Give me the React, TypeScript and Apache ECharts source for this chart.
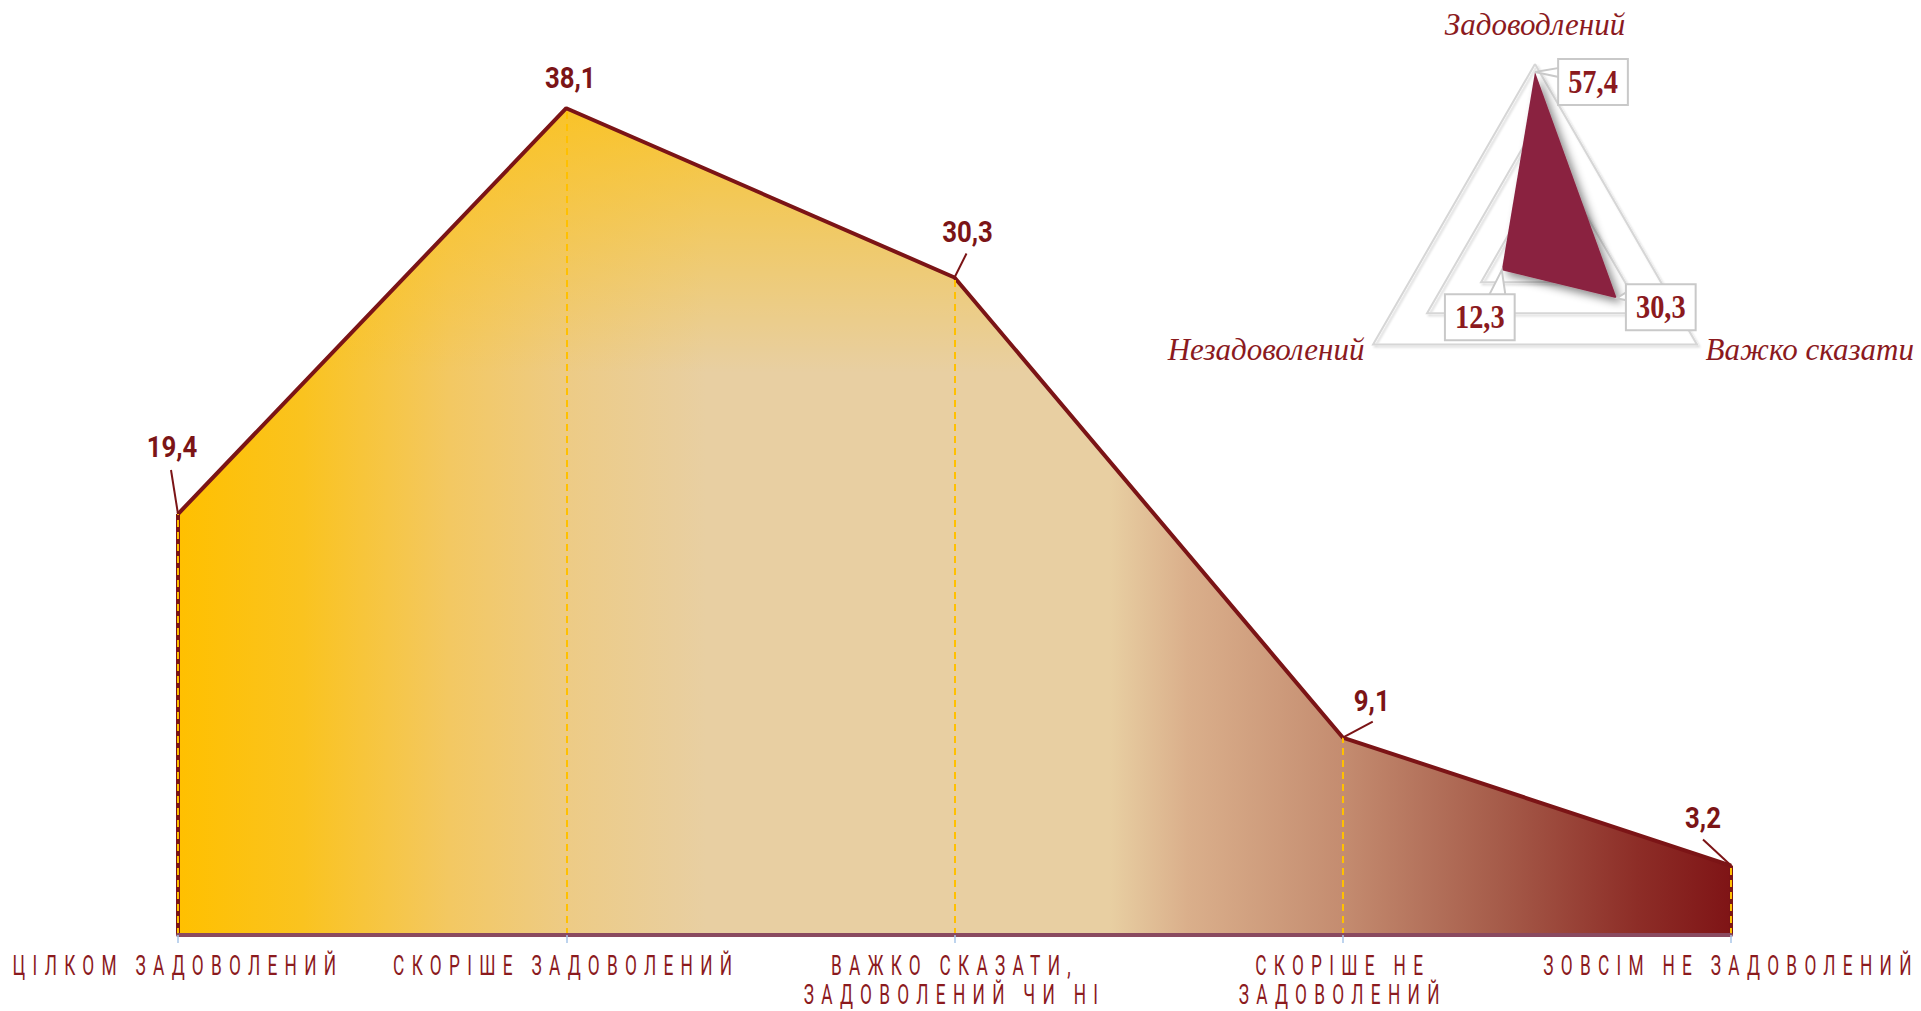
import React, { useEffect, useRef } from 'react';
import * as echarts from 'echarts';

// ---- data ----
const categories = [
  'ЦІЛКОМ ЗАДОВОЛЕНИЙ',
  'СКОРІШЕ ЗАДОВОЛЕНИЙ',
  'ВАЖКО СКАЗАТИ,\nЗАДОВОЛЕНИЙ ЧИ НІ',
  'СКОРІШЕ НЕ\nЗАДОВОЛЕНИЙ',
  'ЗОВСІМ НЕ ЗАДОВОЛЕНИЙ',
];
const values = [19.4, 38.1, 30.3, 9.1, 3.2];
const yMin = 0;
const yMax = 40;

const radarNames = ['Задоводлений', 'Незадоволений', 'Важко сказати'];
const radarValues = [57.4, 12.3, 30.3];
const radarMax = 60;

// ---- layout / style (kept separate from data) ----
const labelOffsets: [number, number][] = [[-6, -51], [4, -14], [13, -30], [29, -21], [-28, -32]];
const leaderVectors: ([number, number] | null)[] = [[-7, -44], null, [12, -24], [30, -16], [-28, -26]];
const radarCenter: [number, number] = [1535, 251];
const radarRadius = 187;
const radarAngles = [90, 210, 330];
const radarBoxOffsets: [number, number][] = [[58, 10], [-22, 47], [44, 9]];

const MAROON = '#7B1416';
const SANS = 'Roboto, sans-serif';
const SERIF = "'Liberation Serif', 'DejaVu Serif', serif";
const fmt = (v: number) => v.toFixed(1).replace('.', ',');

function radarVertex(i: number): [number, number] {
  const r = (radarValues[i] / radarMax) * radarRadius;
  const a = (radarAngles[i] * Math.PI) / 180;
  return [radarCenter[0] + r * Math.cos(a), radarCenter[1] - r * Math.sin(a)];
}

function buildRadarCallouts() {
  const els: any[] = [];
  const boxW = 70;
  const boxH = 45;
  radarValues.forEach((v, i) => {
    const [vx, vy] = radarVertex(i);
    const cx = vx + radarBoxOffsets[i][0];
    const cy = vy + radarBoxOffsets[i][1];
    const left = cx - boxW / 2;
    const top = cy - boxH / 2;
    let pts: number[][];
    if (i === 0) pts = [[vx, vy], [left + 3, top + 8], [left + 3, top + 18]];
    else if (i === 1) pts = [[vx, vy], [left + 43, top + 3], [left + 61, top + 3]];
    else pts = [[vx, vy], [left + 3, top + 6], [left + 3, top + 16]];
    els.push({
      type: 'polygon',
      z: 100,
      shape: { points: pts },
      style: { fill: '#ffffff', stroke: '#C9C9C9', lineWidth: 2 },
    });
    els.push({
      type: 'text',
      z: 101,
      x: cx,
      y: cy,
      style: {
        text: fmt(v),
        align: 'center',
        verticalAlign: 'middle',
        fill: '#8B1A1E',
        fontFamily: SERIF,
        fontWeight: 'bold',
        fontSize: 33,
        lineHeight: 33,
        backgroundColor: '#ffffff',
        borderColor: '#C9C9C9',
        borderWidth: 2,
        padding: [6, 5, 5, 5],
      },
    });
  });
  return els;
}

export default function App() {
  const ref = useRef<HTMLDivElement>(null);

  useEffect(() => {
    if (!ref.current) return;
    const chart = echarts.init(ref.current, null, { renderer: 'svg' });

    const endIdx = [0, values.length - 1];
    const edgeLines = endIdx.map((i) => [
      { coord: [categories[i], 0], lineStyle: { color: MAROON, width: 4, type: 'solid' } },
      { coord: [categories[i], values[i]] },
    ]);
    const dashLines = values.map((v, i) => [
      { coord: [categories[i], 0] },
      { coord: [categories[i], v] },
    ]);

    const option: any = {
      animation: false,
      backgroundColor: '#ffffff',
      grid: { left: 178, right: 190, top: 67, bottom: 76, containLabel: false },
      xAxis: {
        type: 'category',
        data: categories,
        boundaryGap: false,
        z: 5,
        axisLine: { show: true, lineStyle: { color: '#8A4A60', width: 4 } },
        axisTick: { show: true, interval: 0, length: 8, lineStyle: { color: '#A9C6E8', width: 1.5 } },
        axisLabel: {
          interval: 0,
          margin: 17,
          color: '#8B1A1E',
          fontFamily: SANS,
          fontSize: 27,
          lineHeight: 29,
          align: 'center',
        },
        splitLine: { show: false },
      },
      yAxis: { type: 'value', min: yMin, max: yMax, show: false, splitLine: { show: false } },
      radar: {
        center: radarCenter,
        radius: radarRadius,
        startAngle: 90,
        shape: 'polygon',
        splitNumber: 3,
        nameGap: 10,
        indicator: radarNames.map((n) => ({ name: n, max: radarMax })),
        axisName: {
          color: '#8B1A1E',
          fontFamily: SERIF,
          fontStyle: 'italic',
          fontSize: 31,
          formatter: (name: string) => (name === radarNames[0] ? `{top|${name}}` : name),
          rich: {
            top: {
              color: '#8B1A1E',
              fontFamily: SERIF,
              fontStyle: 'italic',
              fontSize: 31,
              padding: [0, 0, 14, 0],
            },
          },
        },
        splitLine: {
          lineStyle: {
            color: '#D6D6D6',
            width: 2,
            shadowColor: 'rgba(0,0,0,0.15)',
            shadowBlur: 2,
            shadowOffsetX: 2,
            shadowOffsetY: 2,
          },
        },
        splitArea: { show: false },
        axisLine: { show: false },
        axisTick: { show: false },
        axisLabel: { show: false },
      },
      series: [
        {
          type: 'line',
          data: values,
          silent: true,
          symbol: 'none',
          clip: false,
          z: 1,
          lineStyle: { width: 0 },
          areaStyle: {
            opacity: 1,
            color: new echarts.graphic.LinearGradient(0, 0, 1, 0, [
              { offset: 0, color: '#FFC000' },
              { offset: 0.08, color: '#FAC31F' },
              { offset: 0.175, color: '#F3C862' },
              { offset: 0.25, color: '#EDCB85' },
              { offset: 0.34, color: '#E8CFA2' },
              { offset: 0.6, color: '#E8CFA2' },
              { offset: 0.65, color: '#DAAF8B' },
              { offset: 0.75, color: '#C48C70' },
              { offset: 0.85, color: '#A65C4A' },
              { offset: 0.94, color: '#8D2D27' },
              { offset: 1, color: '#7F1416' },
            ]),
          },
        },
        {
          type: 'line',
          data: values,
          silent: true,
          symbol: 'none',
          clip: false,
          z: 2,
          lineStyle: { width: 0 },
          areaStyle: {
            opacity: 1,
            color: new echarts.graphic.LinearGradient(0, 0, 0, 1, [
              { offset: 0, color: 'rgba(255,192,0,0.7)' },
              { offset: 0.32, color: 'rgba(255,192,0,0)' },
              { offset: 1, color: 'rgba(255,192,0,0)' },
            ]),
          },
        },
        {
          type: 'line',
          z: 3,
          clip: false,
          silent: true,
          data: values.map((v, i) => ({ value: v, label: { offset: labelOffsets[i] } })),
          symbol: 'circle',
          symbolSize: 2,
          showSymbol: true,
          itemStyle: { color: MAROON },
          lineStyle: { color: MAROON, width: 4 },
          label: {
            show: true,
            position: 'top',
            distance: 0,
            color: MAROON,
            fontFamily: SANS,
            fontWeight: 'bold',
            fontSize: 30,
            formatter: (p: any) => fmt(p.value),
          },
          markLine: {
            silent: true,
            symbol: ['none', 'none'],
            label: { show: false },
            lineStyle: { color: '#FFC000', width: 2, type: [7, 5] },
            data: [...edgeLines, ...dashLines],
          },
        },
        {
          type: 'radar',
          silent: true,
          symbol: 'none',
          z: 4,
          lineStyle: { width: 0 },
          areaStyle: {
            color: '#8A2240',
            opacity: 1,
            shadowColor: 'rgba(0,0,0,0.45)',
            shadowBlur: 8,
            shadowOffsetX: 5,
            shadowOffsetY: 5,
          },
          data: [{ value: radarValues, name: 'radar' }],
        },
      ],
    };

    chart.setOption(option);

    // leader lines from each point (positions through the chart's own scales)
    const leaders: any[] = [];
    values.forEach((v, i) => {
      const vec = leaderVectors[i];
      if (!vec) return;
      const p = chart.convertToPixel({ seriesIndex: 2 }, [i, v]) as number[];
      leaders.push({
        type: 'line',
        z: 50,
        silent: true,
        shape: { x1: p[0], y1: p[1], x2: p[0] + vec[0], y2: p[1] + vec[1] },
        style: { stroke: MAROON, lineWidth: 2 },
      });
    });
    chart.setOption({ graphic: { elements: [...buildRadarCallouts(), ...leaders] } });

    const axisTexts = new Set(categories.flatMap((c) => c.split('\n')));
    const valueTexts = new Set(values.map(fmt));
    const radarTexts = new Set(radarValues.map(fmt));
    const squeeze = (t: Element, sx: number, spacing: number) => {
      const cur = t.getAttribute('transform') || '';
      if (cur.includes('scale(')) return;
      const x = parseFloat(t.getAttribute('x') || '0') || 0;
      const y = parseFloat(t.getAttribute('y') || '0') || 0;
      if (spacing) t.setAttribute('letter-spacing', String(spacing));
      t.setAttribute('transform', `${cur} translate(${x} ${y}) scale(${sx} 1) translate(${-x} ${-y})`.trim());
    };
    const applySqueeze = () => {
      if (!ref.current) return;
      ref.current.querySelectorAll('text').forEach((t) => {
        const s = (t.textContent || '').trim();
        const st = (t.getAttribute('style') || '') + (t.getAttribute('font-family') || '');
        const isSerif = st.includes('Serif');
        if (isSerif) {
          if (radarTexts.has(s)) squeeze(t, 0.86, 0);
          return;
        }
        if (axisTexts.has(s)) squeeze(t, 0.64, 11.4);
        else if (valueTexts.has(s)) squeeze(t, 0.86, 0);
      });
    };
    applySqueeze();
    chart.on('finished', applySqueeze);
    const raf = requestAnimationFrame(applySqueeze);

    return () => {
      cancelAnimationFrame(raf);
      chart.dispose();
    };
  }, []);

  return (
    <div
      ref={ref}
      style={{ position: 'fixed', left: 0, top: 0, width: '1921px', height: '1011px', background: '#ffffff' }}
    />
  );
}
